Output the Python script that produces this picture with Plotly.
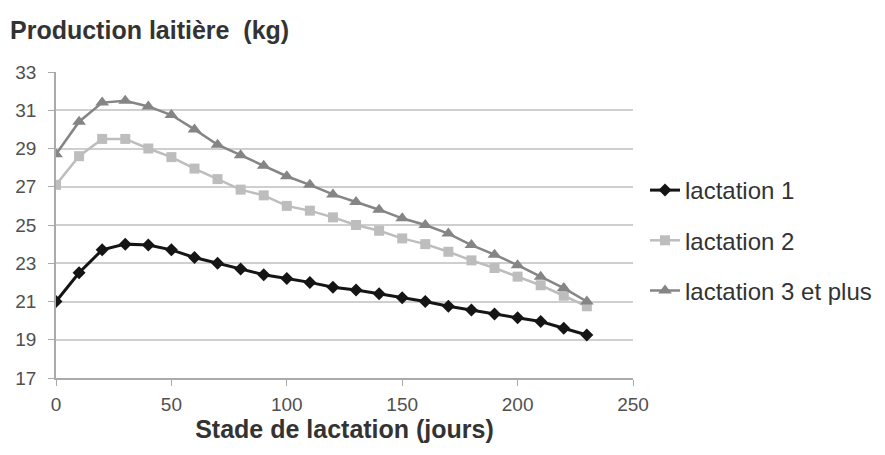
import plotly.graph_objects as go

days = [0, 10, 20, 30, 40, 50, 60, 70, 80, 90, 100, 110, 120, 130, 140, 150, 160, 170, 180, 190, 200, 210, 220, 230]
lactation_1 = [21.0, 22.5, 23.7, 24.0, 23.95, 23.7, 23.3, 23.0, 22.7, 22.4, 22.2, 22.0, 21.75, 21.6, 21.4, 21.2, 21.0, 20.75, 20.55, 20.35, 20.15, 19.95, 19.6, 19.25]
lactation_2 = [27.1, 28.6, 29.5, 29.5, 29.0, 28.55, 27.95, 27.4, 26.85, 26.55, 26.0, 25.75, 25.4, 25.0, 24.7, 24.3, 24.0, 23.6, 23.15, 22.75, 22.3, 21.85, 21.3, 20.75]
lactation_3 = [28.7, 30.4, 31.4, 31.5, 31.2, 30.75, 30.0, 29.2, 28.65, 28.1, 27.55, 27.1, 26.6, 26.2, 25.8, 25.35, 25.0, 24.55, 23.95, 23.45, 22.9, 22.3, 21.7, 21.0]
series_names = ["lactation 1", "lactation 2", "lactation 3 et plus"]
y_ticks = [17, 19, 21, 23, 25, 27, 29, 31, 33]
x_ticks = [0, 50, 100, 150, 200, 250]

fig = go.Figure()
styles = [
    (lactation_1, "#151515", "diamond", 3, 10),
    (lactation_2, "#bdbdbd", "square", 2.5, 10),
    (lactation_3, "#858585", "triangle-up", 2.5, 12),
]
for name, (vals, col, sym, lw, ms) in zip(series_names, styles):
    fig.add_trace(go.Scatter(
        x=days, y=vals, name=name, mode="lines+markers",
        line=dict(color=col, width=lw),
        marker=dict(symbol=sym, size=ms, color=col),
        legendgroup=name,
    ))

font_family = "Liberation Sans, Arial, sans-serif"
# page has an 8px body margin: figure origin is at page (8, 8)
fig.update_layout(
    width=885, height=455,
    margin=dict(l=48, r=260, t=64, b=85),
    paper_bgcolor="white", plot_bgcolor="white",
    font=dict(family=font_family, size=19, color="#505050"),
    title=dict(text="<b>Production laitière  (kg)</b>", xref="container", yref="container",
               x=2 / 885, xanchor="left", y=1 - 22 / 455, yanchor="middle",
               font=dict(size=25, color="#333333", family=font_family)),
    showlegend=True,
    legend=dict(xref="container", yref="container", x=637 / 885, xanchor="left",
                y=1 - 160 / 455, yanchor="top",
                font=dict(size=24, color="#333333"), tracegroupgap=16,
                bgcolor="rgba(0,0,0,0)"),
    xaxis=dict(range=[0, 250], tickvals=x_ticks, showgrid=False, zeroline=False,
               showline=True, linecolor="#aaaaaa", linewidth=1.5, automargin=False,
               ticks="outside", ticklen=6, tickcolor="#aaaaaa", ticklabelstandoff=2,
               tickfont=dict(size=19, color="#505050"),
               title=dict(text="<b>Stade de lactation (jours)</b>", standoff=4,
                          font=dict(size=25, color="#333333", family=font_family))),
    yaxis=dict(range=[17, 33], tickvals=y_ticks, showgrid=True, gridcolor="#cfcfcf", gridwidth=2,
               zeroline=False, showline=True, linecolor="#aaaaaa", linewidth=1.5, automargin=False,
               ticks="outside", ticklen=6, tickcolor="#aaaaaa", ticklabelstandoff=8,
               tickfont=dict(size=19, color="#505050")),
)

fig.write_html("out.html")
